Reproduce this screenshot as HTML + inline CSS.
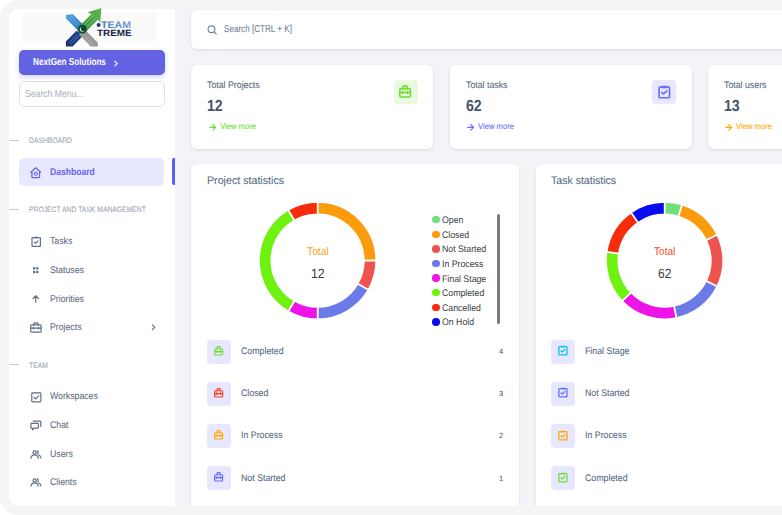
<!DOCTYPE html>
<html><head><meta charset="utf-8"><style>
*{box-sizing:border-box;margin:0;padding:0}
html,body{width:782px;height:515px;overflow:hidden;background:#fff;font-family:"Liberation Sans",sans-serif;text-rendering:geometricPrecision}
.abs{position:absolute}
.t{position:absolute;white-space:nowrap;line-height:1;transform-origin:0 0}
.s{-webkit-text-stroke:0.08px currentColor}
.card{position:absolute;background:#fff;border-radius:6px;box-shadow:0 1px 3px rgba(67,89,113,.17)}
.hline{position:absolute;left:9px;width:10px;height:1px;background:#c5cad2}
svg.abs{overflow:visible}
</style></head><body>
<div class="abs" style="left:0;top:0;width:830px;height:515px;background:#f5f5f5;border-radius:18px"></div>
<div class="abs" style="left:9px;top:9px;width:166px;height:497px;background:#fff;border-radius:10px 0 0 10px"></div>
<div class="abs" style="left:175px;top:9px;width:620px;height:497px;background:#f4f4f8"></div>
<div class="abs" style="left:22px;top:12px;width:134px;height:31px;background:#fafafa"></div>
<svg class="abs" style="left:62px;top:6px" width="74" height="42" viewBox="0 0 74 42">
<defs>
<linearGradient id="gb" x1="0" y1="0" x2="1" y2="1"><stop offset="0" stop-color="#4ba6e6"/><stop offset="1" stop-color="#2466b0"/></linearGradient>
<linearGradient id="gn" x1="1" y1="0" x2="0" y2="1"><stop offset="0" stop-color="#1e4a96"/><stop offset="1" stop-color="#15306e"/></linearGradient>
<linearGradient id="gg" x1="0" y1="1" x2="1" y2="0"><stop offset="0" stop-color="#2f8f3c"/><stop offset="1" stop-color="#62b84c"/></linearGradient>
<linearGradient id="gt" x1="0" y1="0" x2="1" y2="0"><stop offset="0" stop-color="#3f79b6"/><stop offset="1" stop-color="#6fa0d3"/></linearGradient>
</defs>
<polygon points="4.1,9.0 10.8,8.2 24,21.4 17,25.5 4.1,12.6" fill="url(#gb)"/>
<polygon points="3.8,35.5 14.5,24.8 22,28.8 10.6,40.4 4,40.4" fill="url(#gn)"/>
<polygon points="22,22.8 35.9,36.7 35.9,40.4 28.6,40.4 17,28.4" fill="#999999"/>
<polygon points="16,21.6 29.5,8.1 25.5,6.3 39.4,2 38.2,16.8 36,13.4 23,26.4" fill="url(#gg)"/>
<g stroke="#fff" stroke-opacity=".45" stroke-width=".6" fill="none">
<path d="M7 11.5L16 20.5M9 10L17.5 18.5"/>
<path d="M6.5 37.5L15 29M8.5 38.5L17 30"/>
<path d="M27 38L19.5 30.5M30 38L21.5 29.5"/>
<path d="M20 21L32 9M23 23L35 11"/>
</g>
<circle cx="20.4" cy="23.2" r="4.4" fill="#0c4a2b"/>
<path d="M19.6 20.9a2.5 2.5 0 1 0 2.9 3.6a2.1 2.1 0 1 1 -2.9 -3.6z" fill="#fff"/>
<circle cx="36.6" cy="19.1" r="2" fill="#1d3c7c"/>
<text x="39" y="21.8" font-family="Liberation Sans" font-size="9.6" font-weight="bold" fill="url(#gt)" textLength="30" lengthAdjust="spacingAndGlyphs">TEAM</text>
<text x="35" y="30.4" font-family="Liberation Sans" font-weight="bold" font-size="9" fill="#171e48" textLength="34.6" lengthAdjust="spacingAndGlyphs">TREME</text>
</svg>
<div class="abs" style="left:19px;top:50px;width:146px;height:24.6px;background:#6262e3;border-radius:5px;box-shadow:0 2px 5px rgba(98,98,227,.3)"></div>
<div class="t" style="left:32.6px;top:58.37px;font-size:10.2px;color:#fff;font-weight:bold;transform:scaleX(0.8);">NextGen Solutions</div>
<svg class="abs" style="left:112.8px;top:59.6px" width="6" height="7" viewBox="0 0 6 7"><path d="M1.5 0.8L4.3 3.5L1.5 6.2" fill="none" stroke="#fff" stroke-width="1.1"/></svg>
<div class="abs" style="left:19px;top:80.8px;width:146px;height:25.8px;border:1px solid #dde1e6;border-radius:5px;background:#fff"></div>
<div class="t s" style="left:25px;top:89.63px;font-size:10px;color:#aeb4bd;font-weight:normal;transform:scaleX(0.865);">Search Menu...</div>
<div class="hline" style="top:139.7px"></div>
<div class="t s" style="left:28.8px;top:137.45px;font-size:7.85px;color:#9ea7b4;font-weight:normal;transform:scaleX(0.865);">DASHBOARD</div>
<div class="hline" style="top:208.8px"></div>
<div class="t s" style="left:28.8px;top:206.45px;font-size:7.85px;color:#9ea7b4;font-weight:normal;transform:scaleX(0.865);">PROJECT AND TASK MANAGEMENT</div>
<div class="hline" style="top:364.1px"></div>
<div class="t s" style="left:28.8px;top:362.05px;font-size:7.85px;color:#9ea7b4;font-weight:normal;transform:scaleX(0.865);">TEAM</div>
<div class="abs" style="left:19.2px;top:158.4px;width:145.2px;height:27.2px;background:#e7e7fd;border-radius:5px"></div>
<div class="abs" style="left:172.3px;top:158.2px;width:2.7px;height:27px;background:#5c5ef6;border-radius:2px 0 0 2px"></div>
<div class="t" style="left:50.1px;top:167.80px;font-size:9.8px;color:#6466f1;font-weight:bold;transform:scaleX(0.875);">Dashboard</div>
<svg class="abs" style="left:30px;top:167px" width="12" height="12" viewBox="0 0 12 12"><path d="M0.9 5.3L5.7 0.8L10.5 5.3M1.9 4.4V10.1a0.6 0.6 0 0 0 .6 .6H8.9a0.6 0.6 0 0 0 .6 -.6V4.4" fill="none" stroke="#6466f1" stroke-width="1.25" stroke-linejoin="round" stroke-linecap="round"/><circle cx="5.7" cy="6.7" r="1.5" fill="none" stroke="#6466f1" stroke-width="1.15"/></svg>
<div class="t s" style="left:50.1px;top:237.29px;font-size:9.7px;color:#5f6e83;font-weight:normal;transform:scaleX(0.9);">Tasks</div>
<div class="t s" style="left:50.1px;top:266.09px;font-size:9.7px;color:#5f6e83;font-weight:normal;transform:scaleX(0.9);">Statuses</div>
<div class="t s" style="left:50.1px;top:294.59px;font-size:9.7px;color:#5f6e83;font-weight:normal;transform:scaleX(0.9);">Priorities</div>
<div class="t s" style="left:50.1px;top:323.19px;font-size:9.7px;color:#5f6e83;font-weight:normal;transform:scaleX(0.9);">Projects</div>
<div class="t s" style="left:50.1px;top:392.29px;font-size:9.7px;color:#5f6e83;font-weight:normal;transform:scaleX(0.9);">Workspaces</div>
<div class="t s" style="left:50.1px;top:420.79px;font-size:9.7px;color:#5f6e83;font-weight:normal;transform:scaleX(0.9);">Chat</div>
<div class="t s" style="left:50.1px;top:449.89px;font-size:9.7px;color:#5f6e83;font-weight:normal;transform:scaleX(0.9);">Users</div>
<div class="t s" style="left:50.1px;top:478.09px;font-size:9.7px;color:#5f6e83;font-weight:normal;transform:scaleX(0.9);">Clients</div>
<svg class="abs" style="left:30.5px;top:236.2px" width="11" height="11" viewBox="0 0 11 11"><path d="M2.5 1.6H1.6a0.6 0.6 0 0 0 -.6 .6V9.8a0.6 0.6 0 0 0 .6 .6H8.8a0.6 0.6 0 0 0 .6 -.6V2.2a0.6 0.6 0 0 0 -.6 -.6H7.9" fill="none" stroke="#5f6e83" stroke-width="1.2" stroke-linecap="round" stroke-linejoin="round"/><rect x="2.9" y="0.8" width="4.6" height="1.7" rx="0.5" fill="#5f6e83"/><path d="M3.3 6.1L4.6 7.3L7.1 4.8" fill="none" stroke="#5f6e83" stroke-width="1.2" stroke-linecap="round" stroke-linejoin="round"/></svg>
<svg class="abs" style="left:33px;top:266.7px" width="6" height="7" viewBox="0 0 6 7"><rect x="0" y="0.2" width="2.3" height="2.3" fill="#5f6e83"/><rect x="3.2" y="0.2" width="2.3" height="2.3" fill="#5f6e83"/><rect x="0" y="3.9" width="2.3" height="2.3" fill="#5f6e83"/><rect x="3.2" y="3.9" width="2.3" height="2.3" fill="#5f6e83"/></svg>
<svg class="abs" style="left:32px;top:295px" width="8" height="8" viewBox="0 0 8 8"><path d="M3.75 7.2V0.9M0.9 3.6L3.75 0.8L6.6 3.6" fill="none" stroke="#5f6e83" stroke-width="1.2" stroke-linecap="round" stroke-linejoin="round" stroke-width="1.3"/></svg>
<svg class="abs" style="left:29.8px;top:322.4px" width="12" height="11" viewBox="0 0 12 11"><rect x="0.7" y="2.9" width="10.4" height="7.3" rx="1" fill="none" stroke="#5f6e83" stroke-width="1.2" stroke-linecap="round" stroke-linejoin="round"/><path d="M3.9 2.9V1.6a0.7 0.7 0 0 1 .7 -.7h2.6a0.7 0.7 0 0 1 .7 .7V2.9M0.7 6.1H11.1M3.5 5.2V7M8.3 5.2V7" fill="none" stroke="#5f6e83" stroke-width="1.2" stroke-linecap="round" stroke-linejoin="round"/></svg>
<svg class="abs" style="left:151px;top:324.3px" width="6" height="7" viewBox="0 0 6 7"><path d="M1 0.6L3.8 3.3L1 6" fill="none" stroke="#5f6e83" stroke-width="1.1"/></svg>
<svg class="abs" style="left:30.7px;top:391.8px" width="11" height="11" viewBox="0 0 11 11"><rect x="0.8" y="0.8" width="9.1" height="9.1" rx="0.8" fill="none" stroke="#5f6e83" stroke-width="1.2" stroke-linecap="round" stroke-linejoin="round"/><path d="M3.1 5.5L4.6 6.9L7.6 3.9" fill="none" stroke="#5f6e83" stroke-width="1.2" stroke-linecap="round" stroke-linejoin="round"/></svg>
<svg class="abs" style="left:30px;top:419.5px" width="12" height="11" viewBox="0 0 12 11"><path d="M3.3 1.2H10.2a0.6 0.6 0 0 1 .6 .6V6.4" fill="none" stroke="#5f6e83" stroke-width="1.2" stroke-linecap="round" stroke-linejoin="round"/><path d="M1.5 3.3H7.8a0.6 0.6 0 0 1 .6 .6V7.5a0.6 0.6 0 0 1 -.6 .6H4.3L2.6 9.8V8.1H1.5a0.6 0.6 0 0 1 -.6 -.6V3.9a0.6 0.6 0 0 1 .6 -.6z" fill="none" stroke="#5f6e83" stroke-width="1.2" stroke-linecap="round" stroke-linejoin="round"/></svg>
<svg class="abs" style="left:29.8px;top:449.5px" width="12" height="9" viewBox="0 0 12 9"><circle cx="4.6" cy="2.4" r="1.6" fill="none" stroke="#5f6e83" stroke-width="1.2" stroke-linecap="round" stroke-linejoin="round"/><path d="M0.9 8.1C1.2 5.9 2.6 4.8 4.6 4.8S8 5.9 8.3 8.1" fill="none" stroke="#5f6e83" stroke-width="1.2" stroke-linecap="round" stroke-linejoin="round"/><path d="M7.4 0.9C8.4 1.2 8.6 2.9 7.6 3.6M8.6 4.8C9.9 5.3 10.6 6.4 10.9 8" fill="none" stroke="#5f6e83" stroke-width="1.2" stroke-linecap="round" stroke-linejoin="round"/></svg>
<svg class="abs" style="left:29.8px;top:477.8px" width="12" height="9" viewBox="0 0 12 9"><circle cx="4.6" cy="2.4" r="1.6" fill="none" stroke="#5f6e83" stroke-width="1.2" stroke-linecap="round" stroke-linejoin="round"/><path d="M0.9 8.1C1.2 5.9 2.6 4.8 4.6 4.8S8 5.9 8.3 8.1" fill="none" stroke="#5f6e83" stroke-width="1.2" stroke-linecap="round" stroke-linejoin="round"/><path d="M7.4 0.9C8.4 1.2 8.6 2.9 7.6 3.6M8.6 4.8C9.9 5.3 10.6 6.4 10.9 8" fill="none" stroke="#5f6e83" stroke-width="1.2" stroke-linecap="round" stroke-linejoin="round"/></svg>
<div class="card" style="left:191.4px;top:10px;width:620px;height:39px"></div>
<svg class="abs" style="left:206.5px;top:25px" width="11" height="10" viewBox="0 0 11 10"><circle cx="4.5" cy="4.2" r="3.4" fill="none" stroke="#77879a" stroke-width="1.15"/><path d="M7 6.8L9.2 9" fill="none" stroke="#77879a" stroke-width="1.15" stroke-linecap="round"/></svg>
<div class="t s" style="left:224px;top:24.72px;font-size:9.9px;color:#738194;font-weight:normal;transform:scaleX(0.82);">Search [CTRL + K]</div>
<div class="card" style="left:191px;top:65px;width:242px;height:83.6px"></div>
<div class="t s" style="left:207.2px;top:81.37px;font-size:9.6px;color:#566a7f;font-weight:normal;transform:scaleX(0.915);">Total Projects</div>
<div class="t" style="left:207.3px;top:98.66px;font-size:16px;color:#435369;font-weight:bold;transform:scaleX(0.884);">12</div>
<svg class="abs" style="left:208.5px;top:123.6px" width="8" height="7" viewBox="0 0 8 7"><path d="M0.8 3.4H6.6M3.8 0.7L6.6 3.4L3.8 6.1" fill="none" stroke="#71dd37" stroke-width="1.2" stroke-linecap="round" stroke-linejoin="round"/></svg>
<div class="t s" style="left:219.8px;top:122.47px;font-size:8.3px;color:#71dd37;font-weight:normal;transform:scaleX(0.92);">View more</div>
<div class="abs" style="left:393.7px;top:79.8px;width:24px;height:24px;background:#e8fadf;border-radius:4px"></div>
<div class="card" style="left:449.5px;top:65px;width:242px;height:83.6px"></div>
<div class="t s" style="left:465.7px;top:81.37px;font-size:9.6px;color:#566a7f;font-weight:normal;transform:scaleX(0.915);">Total tasks</div>
<div class="t" style="left:465.8px;top:98.66px;font-size:16px;color:#435369;font-weight:bold;transform:scaleX(0.884);">62</div>
<svg class="abs" style="left:467.0px;top:123.6px" width="8" height="7" viewBox="0 0 8 7"><path d="M0.8 3.4H6.6M3.8 0.7L6.6 3.4L3.8 6.1" fill="none" stroke="#696cff" stroke-width="1.2" stroke-linecap="round" stroke-linejoin="round"/></svg>
<div class="t s" style="left:478.3px;top:122.47px;font-size:8.3px;color:#696cff;font-weight:normal;transform:scaleX(0.92);">View more</div>
<div class="abs" style="left:652.2px;top:79.8px;width:24px;height:24px;background:#e7e7ff;border-radius:4px"></div>
<div class="card" style="left:707.6px;top:65px;width:242px;height:83.6px"></div>
<div class="t s" style="left:723.8000000000001px;top:81.37px;font-size:9.6px;color:#566a7f;font-weight:normal;transform:scaleX(0.915);">Total users</div>
<div class="t" style="left:723.9px;top:98.66px;font-size:16px;color:#435369;font-weight:bold;transform:scaleX(0.884);">13</div>
<svg class="abs" style="left:725.1px;top:123.6px" width="8" height="7" viewBox="0 0 8 7"><path d="M0.8 3.4H6.6M3.8 0.7L6.6 3.4L3.8 6.1" fill="none" stroke="#ffab00" stroke-width="1.2" stroke-linecap="round" stroke-linejoin="round"/></svg>
<div class="t s" style="left:736.4px;top:122.47px;font-size:8.3px;color:#ffab00;font-weight:normal;transform:scaleX(0.92);">View more</div>
<svg class="abs" style="left:398.8px;top:84.8px" width="12.2" height="12.8" viewBox="0 0 12 12.6"><rect x="0.8" y="3.6" width="10.4" height="8.2" rx="1.2" fill="none" stroke="#71dd37" stroke-width="1.6" stroke-linecap="round" stroke-linejoin="round"/><path d="M4 3.6V1.8a0.9 0.9 0 0 1 .9 -.9h2.2a0.9 0.9 0 0 1 .9 .9V3.6M0.8 7.4H11.2M3.6 6.4V8.4M8.4 6.4V8.4" fill="none" stroke="#71dd37" stroke-width="1.6" stroke-linecap="round" stroke-linejoin="round"/></svg>
<svg class="abs" style="left:657.6px;top:84.6px" width="12.6" height="13.6" viewBox="0 0 12 13"><path d="M3 2H1.8a.8 .8 0 0 0 -.8 .8V11.4a.8 .8 0 0 0 .8 .8H10.2a.8 .8 0 0 0 .8 -.8V2.8a.8 .8 0 0 0 -.8 -.8H9" fill="none" stroke="#696cff" stroke-width="1.6" stroke-linecap="round" stroke-linejoin="round"/><rect x="3.2" y="0.8" width="5.6" height="2.2" rx=".6" fill="#696cff"/><path d="M3.6 7.2L5.2 8.6L8.4 5.6" fill="none" stroke="#696cff" stroke-width="1.6" stroke-linecap="round" stroke-linejoin="round"/></svg>
<div class="card" style="left:191px;top:163.8px;width:328.1px;height:360px"></div>
<div class="card" style="left:535.8px;top:164px;width:327.6px;height:360px"></div>
<div class="t s" style="left:207.1px;top:176.49px;font-size:11px;color:#566a7f;font-weight:normal;transform:scaleX(0.97);">Project statistics</div>
<div class="t s" style="left:551px;top:176.49px;font-size:11px;color:#566a7f;font-weight:normal;transform:scaleX(0.96);">Task statistics</div>
<svg class="abs" style="left:256.90px;top:200.25px" width="121.20" height="121.20"><path d="M60.60 2.00A58.6 58.6 0 0 1 119.20 60.60L106.90 60.60A46.3 46.3 0 0 0 60.60 14.30Z" fill="#fb9c0c" stroke="#fff" stroke-width="1.6"/><path d="M119.20 60.60A58.6 58.6 0 0 1 111.35 89.90L100.70 83.75A46.3 46.3 0 0 0 106.90 60.60Z" fill="#ef5350" stroke="#fff" stroke-width="1.6"/><path d="M111.35 89.90A58.6 58.6 0 0 1 60.60 119.20L60.60 106.90A46.3 46.3 0 0 0 100.70 83.75Z" fill="#6a7be8" stroke="#fff" stroke-width="1.6"/><path d="M60.60 119.20A58.6 58.6 0 0 1 31.30 111.35L37.45 100.70A46.3 46.3 0 0 0 60.60 106.90Z" fill="#ee14e8" stroke="#fff" stroke-width="1.6"/><path d="M31.30 111.35A58.6 58.6 0 0 1 31.30 9.85L37.45 20.50A46.3 46.3 0 0 0 37.45 100.70Z" fill="#6ff20f" stroke="#fff" stroke-width="1.6"/><path d="M31.30 9.85A58.6 58.6 0 0 1 60.60 2.00L60.60 14.30A46.3 46.3 0 0 0 37.45 20.50Z" fill="#f72c0a" stroke="#fff" stroke-width="1.6"/></svg>
<svg class="abs" style="left:604.20px;top:200.30px" width="121.20" height="121.20"><path d="M60.60 2.00A58.6 58.6 0 0 1 78.14 4.69L74.46 16.42A46.3 46.3 0 0 0 60.60 14.30Z" fill="#6ee07a" stroke="#fff" stroke-width="1.6"/><path d="M78.14 4.69A58.6 58.6 0 0 1 113.21 34.79L102.17 40.21A46.3 46.3 0 0 0 74.46 16.42Z" fill="#fb9c0c" stroke="#fff" stroke-width="1.6"/><path d="M113.21 34.79A58.6 58.6 0 0 1 113.21 86.41L102.17 80.99A46.3 46.3 0 0 0 102.17 40.21Z" fill="#ef5350" stroke="#fff" stroke-width="1.6"/><path d="M113.21 86.41A58.6 58.6 0 0 1 72.40 118.00L69.92 105.95A46.3 46.3 0 0 0 102.17 80.99Z" fill="#6a7be8" stroke="#fff" stroke-width="1.6"/><path d="M72.40 118.00A58.6 58.6 0 0 1 18.13 100.97L27.04 92.50A46.3 46.3 0 0 0 69.92 105.95Z" fill="#ee14e8" stroke="#fff" stroke-width="1.6"/><path d="M18.13 100.97A58.6 58.6 0 0 1 2.68 51.73L14.83 53.59A46.3 46.3 0 0 0 27.04 92.50Z" fill="#6ff20f" stroke="#fff" stroke-width="1.6"/><path d="M2.68 51.73A58.6 58.6 0 0 1 27.12 12.50L34.15 22.60A46.3 46.3 0 0 0 14.83 53.59Z" fill="#f72c0a" stroke="#fff" stroke-width="1.6"/><path d="M27.12 12.50A58.6 58.6 0 0 1 60.60 2.00L60.60 14.30A46.3 46.3 0 0 0 34.15 22.60Z" fill="#0a0aee" stroke="#fff" stroke-width="1.6"/></svg>
<div class="t" style="left:306.5px;top:246.52px;font-size:11.2px;color:#ffa012;font-weight:normal;transform:scaleX(0.92);">Total</div>
<div class="t" style="left:310.9px;top:266.86px;font-size:13.4px;color:#373d3f;font-weight:normal;transform:scaleX(0.92);">12</div>
<div class="t" style="left:654.4px;top:246.52px;font-size:11.2px;color:#fb4a2c;font-weight:normal;transform:scaleX(0.9);">Total</div>
<div class="t" style="left:657.9px;top:266.86px;font-size:13.4px;color:#373d3f;font-weight:normal;transform:scaleX(0.9);">62</div>
<div class="abs" style="left:432.2px;top:215.90px;width:7.6px;height:7.6px;border-radius:50%;background:#6ee07a"></div>
<div class="t" style="left:442.4px;top:216.26px;font-size:9.5px;color:#373d3f;font-weight:normal;transform:scaleX(0.92);">Open</div>
<div class="abs" style="left:432.2px;top:230.50px;width:7.6px;height:7.6px;border-radius:50%;background:#fb9c0c"></div>
<div class="t" style="left:442.4px;top:230.86px;font-size:9.5px;color:#373d3f;font-weight:normal;transform:scaleX(0.92);">Closed</div>
<div class="abs" style="left:432.2px;top:245.10px;width:7.6px;height:7.6px;border-radius:50%;background:#ef5350"></div>
<div class="t" style="left:442.4px;top:245.46px;font-size:9.5px;color:#373d3f;font-weight:normal;transform:scaleX(0.92);">Not Started</div>
<div class="abs" style="left:432.2px;top:259.70px;width:7.6px;height:7.6px;border-radius:50%;background:#6a7be8"></div>
<div class="t" style="left:442.4px;top:260.06px;font-size:9.5px;color:#373d3f;font-weight:normal;transform:scaleX(0.92);">In Process</div>
<div class="abs" style="left:432.2px;top:274.30px;width:7.6px;height:7.6px;border-radius:50%;background:#ee14e8"></div>
<div class="t" style="left:442.4px;top:274.66px;font-size:9.5px;color:#373d3f;font-weight:normal;transform:scaleX(0.92);">Final Stage</div>
<div class="abs" style="left:432.2px;top:288.90px;width:7.6px;height:7.6px;border-radius:50%;background:#6ff20f"></div>
<div class="t" style="left:442.4px;top:289.26px;font-size:9.5px;color:#373d3f;font-weight:normal;transform:scaleX(0.92);">Completed</div>
<div class="abs" style="left:432.2px;top:303.50px;width:7.6px;height:7.6px;border-radius:50%;background:#f72c0a"></div>
<div class="t" style="left:442.4px;top:303.86px;font-size:9.5px;color:#373d3f;font-weight:normal;transform:scaleX(0.92);">Cancelled</div>
<div class="abs" style="left:432.2px;top:318.10px;width:7.6px;height:7.6px;border-radius:50%;background:#0a0aee"></div>
<div class="t" style="left:442.4px;top:318.46px;font-size:9.5px;color:#373d3f;font-weight:normal;transform:scaleX(0.92);">On Hold</div>
<div class="abs" style="left:497px;top:213.5px;width:3px;height:110px;background:#7b7b7b;border-radius:2px"></div>
<div class="abs" style="left:206.6px;top:339.50px;width:24.4px;height:24.3px;background:#e7e7ff;border-radius:4px"></div>
<svg class="abs" style="left:213.2px;top:346.0px" width="11.2" height="9.6" viewBox="0 0 12 12.6"><rect x="0.8" y="3.6" width="10.4" height="8.2" rx="1.2" fill="none" stroke="#71dd37" stroke-width="1.6" stroke-linecap="round" stroke-linejoin="round"/><path d="M4 3.6V1.8a0.9 0.9 0 0 1 .9 -.9h2.2a0.9 0.9 0 0 1 .9 .9V3.6M0.8 7.4H11.2M3.6 6.4V8.4M8.4 6.4V8.4" fill="none" stroke="#71dd37" stroke-width="1.6" stroke-linecap="round" stroke-linejoin="round"/></svg>
<div class="t s" style="left:241.2px;top:347.06px;font-size:9.5px;color:#566a7f;font-weight:normal;transform:scaleX(0.926);">Completed</div>
<div class="t s" style="left:499.1px;top:348.07px;font-size:7.6px;color:#4f6075;font-weight:normal;">4</div>
<div class="abs" style="left:206.6px;top:381.65px;width:24.4px;height:24.3px;background:#e7e7ff;border-radius:4px"></div>
<svg class="abs" style="left:213.2px;top:388.15px" width="11.2" height="9.6" viewBox="0 0 12 12.6"><rect x="0.8" y="3.6" width="10.4" height="8.2" rx="1.2" fill="none" stroke="#ff3e1d" stroke-width="1.6" stroke-linecap="round" stroke-linejoin="round"/><path d="M4 3.6V1.8a0.9 0.9 0 0 1 .9 -.9h2.2a0.9 0.9 0 0 1 .9 .9V3.6M0.8 7.4H11.2M3.6 6.4V8.4M8.4 6.4V8.4" fill="none" stroke="#ff3e1d" stroke-width="1.6" stroke-linecap="round" stroke-linejoin="round"/></svg>
<div class="t s" style="left:241.2px;top:389.21px;font-size:9.5px;color:#566a7f;font-weight:normal;transform:scaleX(0.926);">Closed</div>
<div class="t s" style="left:499.1px;top:390.22px;font-size:7.6px;color:#4f6075;font-weight:normal;">3</div>
<div class="abs" style="left:206.6px;top:423.80px;width:24.4px;height:24.3px;background:#e7e7ff;border-radius:4px"></div>
<svg class="abs" style="left:213.2px;top:430.3px" width="11.2" height="9.6" viewBox="0 0 12 12.6"><rect x="0.8" y="3.6" width="10.4" height="8.2" rx="1.2" fill="none" stroke="#ffab00" stroke-width="1.6" stroke-linecap="round" stroke-linejoin="round"/><path d="M4 3.6V1.8a0.9 0.9 0 0 1 .9 -.9h2.2a0.9 0.9 0 0 1 .9 .9V3.6M0.8 7.4H11.2M3.6 6.4V8.4M8.4 6.4V8.4" fill="none" stroke="#ffab00" stroke-width="1.6" stroke-linecap="round" stroke-linejoin="round"/></svg>
<div class="t s" style="left:241.2px;top:431.36px;font-size:9.5px;color:#566a7f;font-weight:normal;transform:scaleX(0.926);">In Process</div>
<div class="t s" style="left:499.1px;top:432.37px;font-size:7.6px;color:#4f6075;font-weight:normal;">2</div>
<div class="abs" style="left:206.6px;top:465.95px;width:24.4px;height:24.3px;background:#e7e7ff;border-radius:4px"></div>
<svg class="abs" style="left:213.2px;top:472.45px" width="11.2" height="9.6" viewBox="0 0 12 12.6"><rect x="0.8" y="3.6" width="10.4" height="8.2" rx="1.2" fill="none" stroke="#696cff" stroke-width="1.6" stroke-linecap="round" stroke-linejoin="round"/><path d="M4 3.6V1.8a0.9 0.9 0 0 1 .9 -.9h2.2a0.9 0.9 0 0 1 .9 .9V3.6M0.8 7.4H11.2M3.6 6.4V8.4M8.4 6.4V8.4" fill="none" stroke="#696cff" stroke-width="1.6" stroke-linecap="round" stroke-linejoin="round"/></svg>
<div class="t s" style="left:241.2px;top:473.51px;font-size:9.5px;color:#566a7f;font-weight:normal;transform:scaleX(0.926);">Not Started</div>
<div class="t s" style="left:499.1px;top:474.52px;font-size:7.6px;color:#4f6075;font-weight:normal;">1</div>
<div class="abs" style="left:551px;top:339.50px;width:24.2px;height:24.3px;background:#e7e7ff;border-radius:4px"></div>
<svg class="abs" style="left:558.0px;top:345.20000000000005px" width="9.8" height="10.6" viewBox="0 0 12 13"><path d="M3 2H1.8a.8 .8 0 0 0 -.8 .8V11.4a.8 .8 0 0 0 .8 .8H10.2a.8 .8 0 0 0 .8 -.8V2.8a.8 .8 0 0 0 -.8 -.8H9" fill="none" stroke="#03c3ec" stroke-width="1.6" stroke-linecap="round" stroke-linejoin="round"/><rect x="3.2" y="0.8" width="5.6" height="2.2" rx=".6" fill="#03c3ec"/><path d="M3.6 7.2L5.2 8.6L8.4 5.6" fill="none" stroke="#03c3ec" stroke-width="1.6" stroke-linecap="round" stroke-linejoin="round"/></svg>
<div class="t s" style="left:585.3px;top:347.06px;font-size:9.5px;color:#566a7f;font-weight:normal;transform:scaleX(0.926);">Final Stage</div>
<div class="abs" style="left:551px;top:381.65px;width:24.2px;height:24.3px;background:#e7e7ff;border-radius:4px"></div>
<svg class="abs" style="left:558.0px;top:387.35px" width="9.8" height="10.6" viewBox="0 0 12 13"><path d="M3 2H1.8a.8 .8 0 0 0 -.8 .8V11.4a.8 .8 0 0 0 .8 .8H10.2a.8 .8 0 0 0 .8 -.8V2.8a.8 .8 0 0 0 -.8 -.8H9" fill="none" stroke="#696cff" stroke-width="1.6" stroke-linecap="round" stroke-linejoin="round"/><rect x="3.2" y="0.8" width="5.6" height="2.2" rx=".6" fill="#696cff"/><path d="M3.6 7.2L5.2 8.6L8.4 5.6" fill="none" stroke="#696cff" stroke-width="1.6" stroke-linecap="round" stroke-linejoin="round"/></svg>
<div class="t s" style="left:585.3px;top:389.21px;font-size:9.5px;color:#566a7f;font-weight:normal;transform:scaleX(0.926);">Not Started</div>
<div class="abs" style="left:551px;top:423.80px;width:24.2px;height:24.3px;background:#e7e7ff;border-radius:4px"></div>
<svg class="abs" style="left:558.0px;top:429.50000000000006px" width="9.8" height="10.6" viewBox="0 0 12 13"><path d="M3 2H1.8a.8 .8 0 0 0 -.8 .8V11.4a.8 .8 0 0 0 .8 .8H10.2a.8 .8 0 0 0 .8 -.8V2.8a.8 .8 0 0 0 -.8 -.8H9" fill="none" stroke="#ffab00" stroke-width="1.6" stroke-linecap="round" stroke-linejoin="round"/><rect x="3.2" y="0.8" width="5.6" height="2.2" rx=".6" fill="#ffab00"/><path d="M3.6 7.2L5.2 8.6L8.4 5.6" fill="none" stroke="#ffab00" stroke-width="1.6" stroke-linecap="round" stroke-linejoin="round"/></svg>
<div class="t s" style="left:585.3px;top:431.36px;font-size:9.5px;color:#566a7f;font-weight:normal;transform:scaleX(0.926);">In Process</div>
<div class="abs" style="left:551px;top:465.95px;width:24.2px;height:24.3px;background:#e7e7ff;border-radius:4px"></div>
<svg class="abs" style="left:558.0px;top:471.65000000000003px" width="9.8" height="10.6" viewBox="0 0 12 13"><path d="M3 2H1.8a.8 .8 0 0 0 -.8 .8V11.4a.8 .8 0 0 0 .8 .8H10.2a.8 .8 0 0 0 .8 -.8V2.8a.8 .8 0 0 0 -.8 -.8H9" fill="none" stroke="#71dd37" stroke-width="1.6" stroke-linecap="round" stroke-linejoin="round"/><rect x="3.2" y="0.8" width="5.6" height="2.2" rx=".6" fill="#71dd37"/><path d="M3.6 7.2L5.2 8.6L8.4 5.6" fill="none" stroke="#71dd37" stroke-width="1.6" stroke-linecap="round" stroke-linejoin="round"/></svg>
<div class="t s" style="left:585.3px;top:473.51px;font-size:9.5px;color:#566a7f;font-weight:normal;transform:scaleX(0.926);">Completed</div>
<div class="abs" style="left:18px;top:506px;width:782px;height:9px;background:#f5f5f5"></div>
</body></html>
